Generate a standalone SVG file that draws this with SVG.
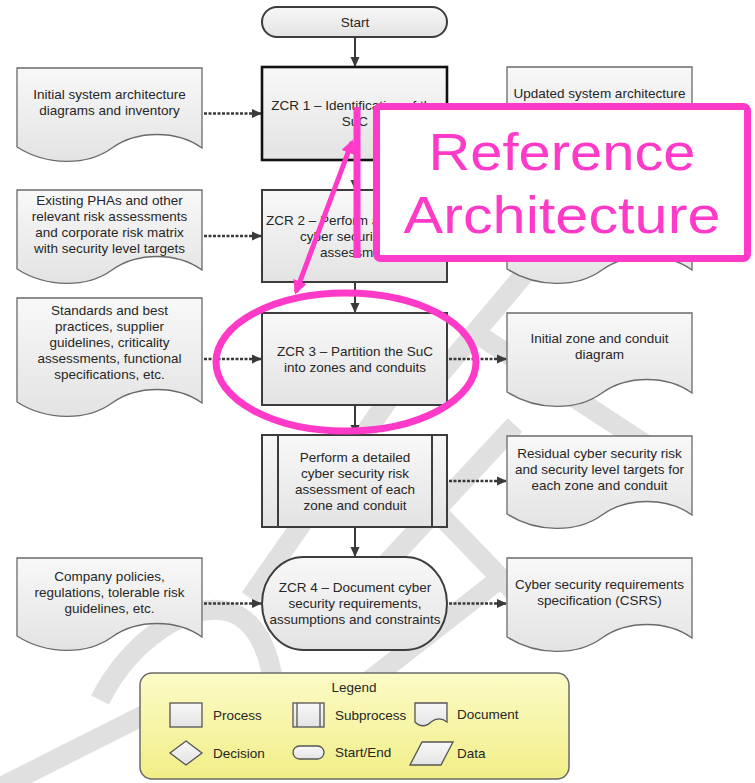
<svg xmlns="http://www.w3.org/2000/svg" width="755" height="783" viewBox="0 0 755 783">
  <defs>
    <linearGradient id="boxFill" x1="0" y1="0" x2="0" y2="1">
      <stop offset="0" stop-color="#f8f8f8"/>
      <stop offset="1" stop-color="#e3e3e3"/>
    </linearGradient>
    <linearGradient id="legendFill" x1="0" y1="0" x2="0" y2="1">
      <stop offset="0" stop-color="#fcfbc6"/>
      <stop offset="1" stop-color="#f1ee88"/>
    </linearGradient>
    <marker id="ah" viewBox="0 0 10 10" refX="10" refY="5" markerWidth="10" markerHeight="10" markerUnits="userSpaceOnUse" orient="auto">
      <path d="M0,0.5 L10,5 L0,9.5 Z" fill="#3a3a3a"/>
    </marker>
    <marker id="pinkHead" viewBox="0 0 10 10" refX="8" refY="5" markerWidth="14" markerHeight="14" markerUnits="userSpaceOnUse" orient="auto-start-reverse">
      <path d="M0,0 L10,5 L0,10 Z" fill="#ff3ac9"/>
    </marker>
  </defs>
  <style>
    text { font-family: "Liberation Sans", Arial, sans-serif; font-size: 13.5px; fill: #262626; }
    .c { text-anchor: middle; }
    .proc { fill: url(#boxFill); stroke: #3c3c3c; stroke-width: 2; }
    .proc-main { fill: url(#boxFill); stroke: #111; stroke-width: 2.6; }
    .doc { fill: url(#boxFill); stroke: #6a6a6a; stroke-width: 1.3; }
    .flow { stroke: #3a3a3a; stroke-width: 2; fill: none; marker-end: url(#ah); }
    .data { stroke: #3a3a3a; stroke-width: 2.5; fill: none; stroke-dasharray: 3 1.5; marker-end: url(#ah); }
    .mark { stroke: #e0e0e0; stroke-width: 20; fill: none; stroke-linecap: butt; }
    .pink { stroke: #ff3ac9; fill: none; }
    .leg-icon { fill: url(#boxFill); stroke: #555; stroke-width: 1.3; }
    .callout { font-family: "Liberation Sans", Arial, sans-serif; font-size: 52px; fill: #ff3ac9; text-anchor: middle; }
  </style>

  <rect width="755" height="783" fill="#ffffff"/>

  <!-- light watermark strokes behind the chart -->
  <g id="watermark">
    <path class="mark" d="M548,246 L432,384"/>
    <path class="mark" d="M468,328 L645,444"/>
    <path class="mark" d="M400,383 L250,598"/>
    <path class="mark" d="M515,425 L385,565"/>
    <path class="mark" d="M440,515 L520,598"/>
    <path class="mark" d="M505,575 L370,680"/>
    <path class="mark" d="M100,700 C130,640 190,600 230,612 C255,620 272,650 275,700"/>
    <path class="mark" d="M-5,790 L150,712"/>
  </g>

  <!-- connectors -->
  <g id="connectors">
    <path class="flow" d="M355,37 V67"/>
    <path class="flow" d="M355,160 V190"/>
    <path class="flow" d="M355,282 V313"/>
    <path class="flow" d="M355,405 V435"/>
    <path class="flow" d="M355,527 V557"/>
    <path class="data" d="M204,113.5 H262"/>
    <path class="data" d="M204,236 H262"/>
    <path class="data" d="M204,359 H262"/>
    <path class="data" d="M204,603.5 H262"/>
    <path class="data" d="M449,113.5 H507"/>
    <path class="data" d="M449,236 H507"/>
    <path class="data" d="M449,359 H507"/>
    <path class="data" d="M449,481 H507"/>
    <path class="data" d="M449,603.5 H507"/>
  </g>

  <g id="start">
    <rect class="proc" x="262" y="7" width="185" height="30" rx="15" ry="15"/>
    <text class="c" x="355" y="26.5">Start</text>
  </g>

  <g id="zcr1">
    <rect class="proc-main" x="262" y="67" width="185" height="93"/>
    <text class="c" x="355" y="110">ZCR 1 – Identification of the</text>
    <text class="c" x="355" y="126">SuC</text>
  </g>

  <g id="zcr2">
    <rect class="proc" x="262" y="190" width="185" height="92"/>
    <text x="266" y="224.5">ZCR 2 – Perform a</text>
    <text x="300" y="240.5">cyber security</text>
    <text x="320" y="256.5">assessment</text>
  </g>

  <g id="zcr3">
    <rect class="proc" x="262" y="313" width="185" height="92"/>
    <text class="c" x="355" y="355.5">ZCR 3 – Partition the SuC</text>
    <text class="c" x="355" y="371.5">into zones and conduits</text>
  </g>

  <g id="detailed-assessment">
    <rect class="proc" x="262" y="435" width="185" height="92"/>
    <path d="M278,435 V527 M432,435 V527" stroke="#3c3c3c" stroke-width="2"/>
    <text class="c" x="355" y="461.5">Perform a detailed</text>
    <text class="c" x="355" y="477.5">cyber security risk</text>
    <text class="c" x="355" y="493.5">assessment of each</text>
    <text class="c" x="355" y="509.5">zone and conduit</text>
  </g>

  <g id="zcr4">
    <rect class="proc" x="262" y="557" width="185" height="93" rx="42" ry="46.5"/>
    <text class="c" x="355" y="592">ZCR 4 – Document cyber</text>
    <text class="c" x="355" y="608">security requirements,</text>
    <text class="c" x="355" y="624">assumptions and constraints</text>
  </g>

  <!-- input documents -->
  <g id="doc-initial-architecture">
    <path class="doc" d="M17,68 H202 V148 C177,130 137,130 112,148 C87,166 47,166 17,147 Z"/>
    <text class="c" x="109.5" y="98.5">Initial system architecture</text>
    <text class="c" x="109.5" y="114.5">diagrams and inventory</text>
  </g>

  <g id="doc-existing-phas">
    <path class="doc" d="M17,190 H202 V270 C177,252 137,252 112,270 C87,288 47,288 17,269 Z"/>
    <text class="c" x="109.5" y="204.5">Existing PHAs and other</text>
    <text class="c" x="109.5" y="220.5">relevant risk assessments</text>
    <text class="c" x="109.5" y="236.5">and corporate risk matrix</text>
    <text class="c" x="109.5" y="252.5">with security level targets</text>
  </g>

  <g id="doc-standards">
    <path class="doc" d="M17,298 H202 V403 C177,385 137,385 112,403 C87,421 47,421 17,402 Z"/>
    <text class="c" x="109.5" y="315">Standards and best</text>
    <text class="c" x="109.5" y="331">practices, supplier</text>
    <text class="c" x="109.5" y="347">guidelines, criticality</text>
    <text class="c" x="109.5" y="363">assessments, functional</text>
    <text class="c" x="109.5" y="379">specifications, etc.</text>
  </g>

  <g id="doc-policies">
    <path class="doc" d="M17,558 H202 V637 C177,619 137,619 112,637 C87,655 47,655 17,636 Z"/>
    <text class="c" x="109.5" y="580.5">Company policies,</text>
    <text class="c" x="109.5" y="596.5">regulations, tolerable risk</text>
    <text class="c" x="109.5" y="612.5">guidelines, etc.</text>
  </g>

  <!-- output documents -->
  <g id="doc-updated-architecture">
    <path class="doc" d="M507,67 H692 V147 C667,129 627,129 602,147 C577,165 537,165 507,146 Z"/>
    <text class="c" x="599.5" y="97.5">Updated system architecture</text>
  </g>

  <g id="doc-zcr2-output">
    <path class="doc" d="M507,190 H692 V270 C667,252 627,252 602,270 C577,288 537,288 507,269 Z"/>
  </g>

  <g id="doc-zone-diagram">
    <path class="doc" d="M507,313 H692 V393 C667,375 627,375 602,393 C577,411 537,411 507,392 Z"/>
    <text class="c" x="599.5" y="343">Initial zone and conduit</text>
    <text class="c" x="599.5" y="359">diagram</text>
  </g>

  <g id="doc-residual-risk">
    <path class="doc" d="M507,436 H692 V515 C667,497 627,497 602,515 C577,533 537,533 507,514 Z"/>
    <text class="c" x="599.5" y="457.5">Residual cyber security risk</text>
    <text class="c" x="599.5" y="473.5">and security level targets for</text>
    <text class="c" x="599.5" y="489.5">each zone and conduit</text>
  </g>

  <g id="doc-csrs">
    <path class="doc" d="M507,558 H692 V638 C667,620 627,620 602,638 C577,656 537,656 507,637 Z"/>
    <text class="c" x="599.5" y="588.5">Cyber security requirements</text>
    <text class="c" x="599.5" y="604.5">specification (CSRS)</text>
  </g>

  <!-- legend -->
  <g id="legend">
    <rect x="140" y="673" width="429" height="106" rx="12" ry="12" fill="url(#legendFill)" stroke="#6a6a6a" stroke-width="1.5"/>
    <text class="c" x="354" y="691.5">Legend</text>
    <rect class="leg-icon" x="170" y="703" width="32" height="24"/>
    <text x="213" y="719.5">Process</text>
    <rect class="leg-icon" x="293" y="703" width="31" height="24"/>
    <path d="M297,703 V727 M320,703 V727" stroke="#555" stroke-width="1.3"/>
    <text x="335" y="719.5">Subprocess</text>
    <path class="leg-icon" d="M415,703 H447 V722 C442,718 436,718 431,722 C426,727 420,727 415,722 Z"/>
    <text x="457" y="718.5">Document</text>
    <path class="leg-icon" d="M186,741 L202,753 L186,765 L170,753 Z"/>
    <text x="213" y="757.5">Decision</text>
    <rect class="leg-icon" x="293" y="746" width="31" height="13" rx="6.5" ry="6.5"/>
    <text x="335" y="756.5">Start/End</text>
    <path class="leg-icon" d="M410,765 L422,742 L453,742 L441,765 Z"/>
    <text x="457" y="757.5">Data</text>
  </g>

  <!-- magenta call-out on top -->
  <g id="callout">
    <ellipse class="pink" cx="346" cy="362" rx="130" ry="69" stroke-width="7"/>
    <path class="pink" d="M357,107 V258" stroke-width="7"/>
    <path class="pink" d="M352,142 L296,292" stroke-width="5" marker-start="url(#pinkHead)" marker-end="url(#pinkHead)"/>
    <rect x="376.5" y="106.5" width="371" height="152" rx="4" ry="4" fill="#ffffff" stroke="#ff3ac9" stroke-width="7"/>
    <text class="callout" x="562" y="170" textLength="267" lengthAdjust="spacingAndGlyphs">Reference</text>
    <text class="callout" x="562" y="233" textLength="317" lengthAdjust="spacingAndGlyphs">Architecture</text>
  </g>
</svg>
